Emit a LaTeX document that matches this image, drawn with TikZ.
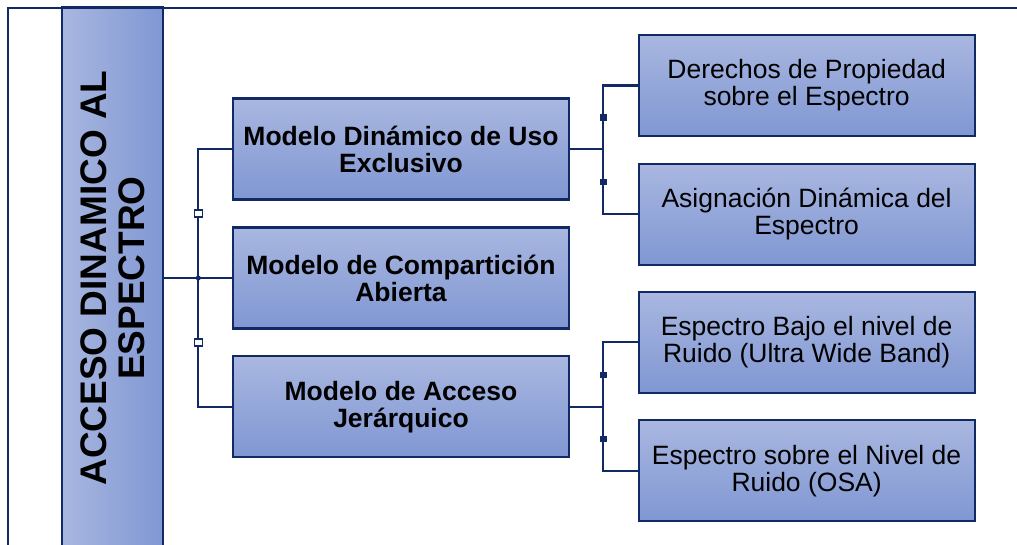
\documentclass[tikz,border=0pt]{standalone}
\usepackage{fontspec}
\setmainfont{Liberation Sans}
\definecolor{navy}{RGB}{17,42,102}
\definecolor{fillA}{RGB}{169,183,224}
\definecolor{fillB}{RGB}{128,151,211}
\tikzset{
  box/.style={draw=navy, line width=2.2pt, top color=fillA, bottom color=fillB,
    minimum width=336pt, minimum height=101pt, inner sep=0pt, align=center, text=black},
  midbox/.style={box, font=\bfseries\fontsize{26.5}{27}\selectfont},
  leafbox/.style={box, font=\fontsize{26.5}{27}\selectfont},
  conn/.style={draw=navy, line width=2.2pt},
  hsq/.style={draw=navy, fill=white, line width=1.6pt, minimum width=8pt, minimum height=7pt, inner sep=0pt},
  fsq/.style={draw=navy, fill=navy, line width=0.5pt, minimum size=5.5pt, inner sep=0pt},
}
\begin{document}
\begin{tikzpicture}[x=1pt,y=-1pt]
\useasboundingbox (0,0) rectangle (1017,544);
\clip (0,0) rectangle (1017,544);
\draw[navy, line width=2pt] (7.5,7.5) rectangle (1040,580);
\node[draw=navy, line width=2.2pt, left color=fillA, right color=fillB,
  minimum width=101pt, minimum height=600pt, inner sep=0pt] (root) at (112.5,307.5) {};
\node[rotate=90, align=center, inner sep=0pt, font=\bfseries\fontsize{37}{38.3}\selectfont]
  (roottext) at (112.5,278) {ACCESO DINAMICO AL\\ESPECTRO};
% middle level
\node[midbox] (m1) at (401,149) {Modelo Dinámico de Uso\\Exclusivo};
\node[midbox] (m2) at (401,278) {Modelo de Compartición\\Abierta};
\node[midbox] (m3) at (401,406.7) {Modelo de Acceso\\Jerárquico};
% leaves
\node[leafbox] (r1) at (806.6,85.5) {Derechos de Propiedad\\sobre el Espectro};
\node[leafbox] (r2) at (806.6,214.2) {Asignación Dinámica del\\Espectro};
\node[leafbox] (r3) at (806.6,342.3) {Espectro Bajo el nivel de\\Ruido (Ultra Wide Band)};
\node[leafbox] (r4) at (806.6,470.8) {Espectro sobre el Nivel de\\Ruido (OSA)};
% left connectors
\coordinate (j0) at (198.3,278);
\draw[conn] (root.east |- j0) -- (m2.west);
\draw[conn] (m1.west) -| (j0) |- (m3.west);
\fill[navy] (j0) circle[radius=2.5pt];
\node[hsq] (s1) at (198.3,213.5) {};
\node[hsq] (s2) at (198.3,342.5) {};
% right connectors (top)
\coordinate (j1) at (603.3,149);
\draw[conn] (m1.east) -- (j1);
\draw[conn] (r1.west) -| (j1) |- (r2.west);
\node[fsq] (s3) at (603.3,117.3) {};
\node[fsq] (s4) at (603.3,181.8) {};
% right connectors (bottom)
\coordinate (j3) at (603.3,406.7);
\draw[conn] (m3.east) -- (j3);
\draw[conn] (r3.west) -| (j3) |- (r4.west);
\node[fsq] (s5) at (603.3,374.5) {};
\node[fsq] (s6) at (603.3,438.7) {};
\end{tikzpicture}
\end{document}
